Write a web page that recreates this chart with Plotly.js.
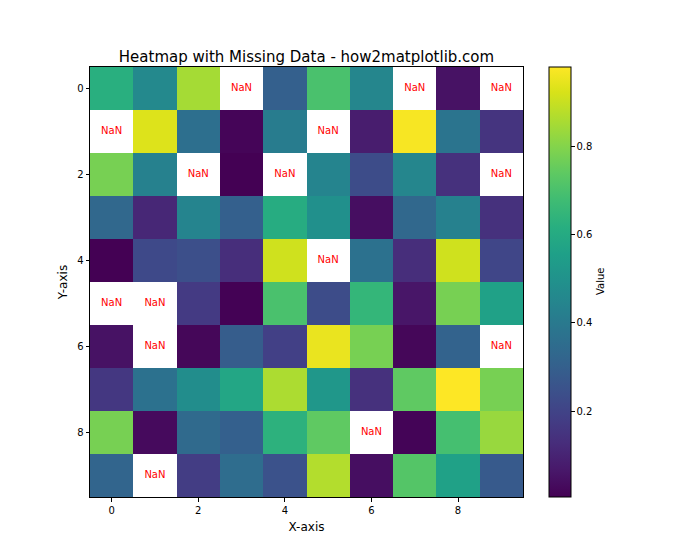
<!DOCTYPE html>
<html>
<head>
<meta charset="utf-8">
<script src="https://cdn.plot.ly/plotly-3.0.1.min.js"></script>
<style>html,body{margin:0;padding:0;background:#fff;}#chart{width:700px;height:560px;}</style>
</head>
<body>
<div id="chart"></div>
<script>
var xIndex = [0,1,2,3,4,5,6,7,8,9];
var yIndex = [0,1,2,3,4,5,6,7,8,9];
var row0 = [0.62, 0.46, 0.85, null, 0.30, 0.70, 0.45, null, 0.05, null];
var row1 = [null, 0.93, 0.36, 0.015, 0.41, null, 0.08, 0.97, 0.38, 0.15];
var row2 = [0.78, 0.43, null, 0.006, null, 0.44, 0.23, 0.45, 0.14, null];
var row3 = [0.33, 0.11, 0.44, 0.30, 0.61, 0.49, 0.04, 0.33, 0.43, 0.14];
var row4 = [0.006, 0.22, 0.24, 0.13, 0.91, null, 0.37, 0.13, 0.91, 0.21];
var row5 = [null, null, 0.17, 0.007, 0.70, 0.23, 0.65, 0.06, 0.78, 0.56];
var row6 = [0.05, null, 0.02, 0.29, 0.19, 0.95, 0.78, 0.02, 0.31, null];
var row7 = [0.16, 0.37, 0.48, 0.58, 0.86, 0.52, 0.14, 0.74, 0.98, 0.78];
var row8 = [0.78, 0.03, 0.34, 0.30, 0.63, 0.74, null, 0.012, 0.69, 0.83];
var row9 = [0.32, null, 0.18, 0.35, 0.25, 0.87, 0.04, 0.72, 0.56, 0.28];
var values = [row0,row1,row2,row3,row4,row5,row6,row7,row8,row9];
var xTicks = [0,2,4,6,8];
var yTicks = [0,2,4,6,8];
var cbTicks = [0.2,0.4,0.6,0.8];

var nanX = [], nanY = [], nanT = [];
values.forEach(function(r, i){ r.forEach(function(v, j){ if (v === null){ nanX.push(xIndex[j]); nanY.push(yIndex[i]); nanT.push('NaN'); } }); });

var font = 'DejaVu Sans, sans-serif';
var data = [
  {
    type: 'heatmap', x: xIndex, y: yIndex, z: values,
    colorscale: 'Viridis', zmin: 0.005, zmax: 0.98, hoverongaps: false,
    colorbar: {
      x: 1.06, xanchor: 'left', y: 0, yanchor: 'bottom', len: 1, lenmode: 'fraction',
      thickness: 22, thicknessmode: 'pixels', outlinecolor: '#000', outlinewidth: 1,
      ticks: 'outside', ticklen: 3.5, tickwidth: 0.8, tickcolor: '#000',
      tickvals: cbTicks, tickfont: {family: font, size: 10, color: '#000'},
      xpad: 0, ypad: 0
    }
  },
  {
    type: 'scatter', mode: 'text', x: nanX, y: nanY, text: nanT,
    textfont: {family: font, size: 10, color: 'red'}, hoverinfo: 'skip', showlegend: false
  }
];
var layout = {
  width: 700, height: 560,
  margin: {l: 90, r: 177, t: 67, b: 63},
  paper_bgcolor: '#fff', plot_bgcolor: '#fff',
  showlegend: false,
  title: {text: 'Heatmap with Missing Data - how2matplotlib.com', xref: 'paper', x: 0.5, xanchor: 'center', y: 0.889, yanchor: 'bottom', yref: 'container',
    font: {family: font, size: 15, color: '#000'}},
  annotations: [{
    text: 'Value', xref: 'paper', yref: 'paper', x: (600 - 90) / 433, y: 0.5, xanchor: 'center', yanchor: 'middle',
    textangle: -90, showarrow: false, font: {family: font, size: 10, color: '#000'}
  }],
  xaxis: {
    range: [-0.5, 9.5], tickvals: xTicks, ticks: 'outside', ticklen: 3.5, tickwidth: 0.8, tickcolor: '#000',
    showgrid: false, zeroline: false, showline: true, linecolor: '#000', linewidth: 1, mirror: true,
    tickfont: {family: font, size: 10, color: '#000'},
    title: {text: 'X-axis', font: {family: font, size: 12, color: '#000'}, standoff: 8}
  },
  yaxis: {
    range: [9.5, -0.5], tickvals: yTicks, ticks: 'outside', ticklen: 3.5, tickwidth: 0.8, tickcolor: '#000',
    showgrid: false, zeroline: false, showline: true, linecolor: '#000', linewidth: 1, mirror: true,
    tickfont: {family: font, size: 10, color: '#000'},
    title: {text: 'Y-axis', font: {family: font, size: 12, color: '#000'}, standoff: 6}
  }
};
Plotly.newPlot('chart', data, layout, {displayModeBar: false});
</script>
</body>
</html>
